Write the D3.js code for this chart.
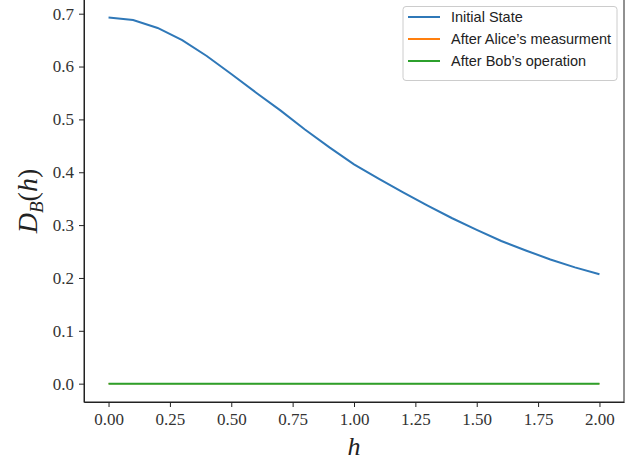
<!DOCTYPE html>
<head>
  <meta charset="utf-8">
  <script src="https://d3js.org/d3.v7.min.js"></script>
  <style>
    body { margin: 0; background: #fff; }
    .axis path, .axis line { stroke: #222; }
    .axis text { font-family: "Liberation Serif", "DejaVu Serif", serif; font-size: 17px; fill: #333; }
  </style>
</head>
<body>
<script>
// h values and D_B(h) for each state
var hValues = [0.0, 0.1, 0.2, 0.3, 0.4, 0.5, 0.6, 0.7, 0.8, 0.9, 1.0,
               1.1, 1.2, 1.3, 1.4, 1.5, 1.6, 1.7, 1.8, 1.9, 2.0];
var initialState = [0.693, 0.688, 0.673, 0.650, 0.620, 0.586, 0.551, 0.517, 0.481, 0.447, 0.415,
                     0.388, 0.362, 0.337, 0.313, 0.291, 0.270, 0.252, 0.235, 0.220, 0.207];
var afterAlice = [0, 0, 0, 0, 0, 0, 0, 0, 0, 0, 0, 0, 0, 0, 0, 0, 0, 0, 0, 0, 0];
var afterBob = [0, 0, 0, 0, 0, 0, 0, 0, 0, 0, 0, 0, 0, 0, 0, 0, 0, 0, 0, 0, 0];
var seriesNames = ["Initial State", "After Alice\u2019s measurment", "After Bob\u2019s operation"];
var xTicks = [0, 0.25, 0.5, 0.75, 1.0, 1.25, 1.5, 1.75, 2.0];
var yTicks = [0, 0.1, 0.2, 0.3, 0.4, 0.5, 0.6, 0.7];

var w = 634, h = 461;
var mLeft = 84, mRight = 624, mTop = -1, mBottom = 402;
var colors = ["#2f78b8", "#ff7f0e", "#2ca02c"];
var widths = [2, 1.4, 2];

var svg = d3.select("body").append("svg")
    .attr("width", w)
    .attr("height", h);

var xScale = d3.scaleLinear().domain([-0.1, 2.1]).range([mLeft, mRight]);
var yScale = d3.scaleLinear().domain([-0.0347, 0.7278]).range([mBottom, mTop]);

var xAxis = d3.axisBottom(xScale).tickValues(xTicks).tickFormat(d3.format(".2f"))
    .tickSize(5).tickSizeOuter(0).tickPadding(6);
var yAxis = d3.axisLeft(yScale).tickValues(yTicks).tickFormat(d3.format(".1f"))
    .tickSize(5).tickSizeOuter(0).tickPadding(5);

svg.append("g").attr("class", "axis")
    .attr("transform", "translate(0," + mBottom + ")")
    .call(xAxis);
svg.append("g").attr("class", "axis")
    .attr("transform", "translate(" + mLeft + ",0)")
    .call(yAxis);

// frame (top + right spines)
svg.append("rect")
    .attr("x", mLeft).attr("y", mTop)
    .attr("width", mRight - mLeft).attr("height", mBottom - mTop)
    .attr("fill", "none").attr("stroke", "#222").attr("stroke-width", 1);

var line = d3.line()
    .x(function(d) { return xScale(d[0]); })
    .y(function(d) { return yScale(d[1]); });

var allSeries = [initialState, afterAlice, afterBob];
allSeries.forEach(function(s, i) {
    svg.append("path")
        .datum(hValues.map(function(x, j) { return [x, s[j]]; }))
        .attr("fill", "none")
        .attr("stroke", colors[i])
        .attr("stroke-width", widths[i])
        .attr("d", line);
});

// legend
var legend = svg.append("g");
legend.append("rect")
    .attr("x", 403).attr("y", 6.5)
    .attr("width", 214).attr("height", 74)
    .attr("rx", 3)
    .attr("fill", "#fff").attr("stroke", "#ccc").attr("stroke-width", 1);
seriesNames.forEach(function(name, i) {
    var ly = 17 + i * 22;
    legend.append("line")
        .attr("x1", 408).attr("x2", 440)
        .attr("y1", ly).attr("y2", ly)
        .attr("stroke", colors[i]).attr("stroke-width", 2);
    legend.append("text")
        .attr("x", 451).attr("y", ly + 5)
        .attr("font-family", "'Liberation Sans', 'DejaVu Sans', sans-serif")
        .attr("font-size", 14.5)
        .attr("fill", "#222")
        .text(name);
});

// axis labels
svg.append("text")
    .attr("x", xScale(1.0)).attr("y", 455)
    .attr("text-anchor", "middle")
    .attr("font-family", "'Liberation Serif', serif")
    .attr("font-style", "italic")
    .attr("font-size", 26)
    .attr("fill", "#222")
    .text("h");

var yl = svg.append("text")
    .attr("transform", "translate(37,201) rotate(-90)")
    .attr("text-anchor", "middle")
    .attr("font-family", "'Liberation Serif', serif")
    .attr("font-style", "italic")
    .attr("font-size", 28)
    .attr("fill", "#222");
yl.append("tspan").text("D");
yl.append("tspan").attr("font-size", 19).attr("dy", 6).text("B");
yl.append("tspan").attr("dy", -6).attr("font-style", "normal").text("(");
yl.append("tspan").text("h");
yl.append("tspan").attr("font-style", "normal").text(")");
</script>
</body>
